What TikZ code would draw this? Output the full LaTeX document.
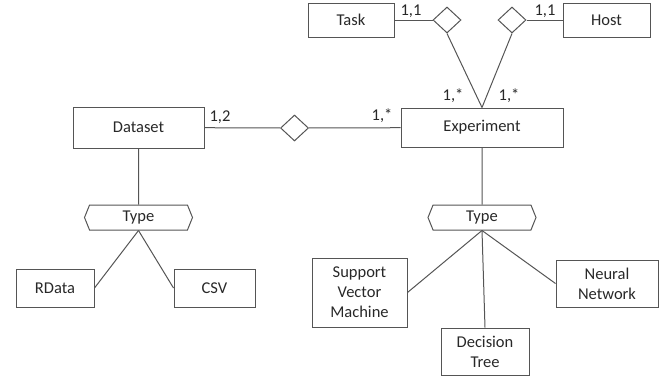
\documentclass[tikz,border=0pt]{standalone}
\usepackage{fontspec}
\setmainfont{Carlito}
\usepackage{tikz}
\usetikzlibrary{shapes.geometric}
\usetikzlibrary{shapes.symbols}
\definecolor{mylinecolor}{RGB}{85,85,85}
\definecolor{mytextcolor}{RGB}{40,40,40}
\tikzset{
  entity/.style={draw=mylinecolor, line width=1pt, text=mytextcolor, align=center, inner sep=0pt,
    font=\fontsize{16.5}{20}\selectfont},
  relation/.style={draw=mylinecolor, line width=1pt, shape=diamond, inner sep=0pt,
    minimum width=28pt, minimum height=26pt},
  typebox/.style={draw=mylinecolor, line width=1pt, text=mytextcolor, shape=signal,
    signal to=west and east, signal pointer angle=136, inner sep=0pt,
    minimum width=108pt, minimum height=25pt, font=\fontsize{16.5}{20}\selectfont},
  card/.style={text=mytextcolor, inner sep=0pt, font=\fontsize{16.5}{20}\selectfont},
  link/.style={draw=mylinecolor, line width=1pt}
}

\begin{document}
\begin{tikzpicture}[x=1pt, y=-1pt]
\useasboundingbox (0,0) rectangle (670,376);
\node[entity, minimum width=86pt, minimum height=34pt] (task) at (351,20) {Task};
\node[entity, minimum width=87pt, minimum height=34pt] (host) at (606.5,20) {Host};
\node[relation] (reltask) at (447,20) {};
\node[relation] (relhost) at (512,20) {};
\node[entity, minimum width=162pt, minimum height=39pt] (experiment) at (482,127.5) {Experiment};
\node[entity, minimum width=131pt, minimum height=41pt] (dataset) at (138.5,127.5) {Dataset};
\node[relation] (reldata) at (294.5,128) {};
\node[typebox] (datatype) at (138.5,217.5) {Type};
\node[typebox] (modeltype) at (482,217.5) {Type};
\node[entity, minimum width=78pt, minimum height=38pt] (rdata) at (55,288) {RData};
\node[entity, minimum width=81pt, minimum height=38pt] (csv) at (214.5,288) {CSV};
\node[entity, minimum width=95pt, minimum height=69pt] (svm) at (359.5,292.5) {Support\\Vector\\Machine};
\node[entity, minimum width=88pt, minimum height=47pt] (dtree) at (485,351.5) {Decision\\Tree};
\node[entity, minimum width=102pt, minimum height=47pt] (nnet) at (607,283.5) {Neural\\Network};
\node[card] at (411,11) {1,1};
\node[card] at (545,11) {1,1};
\node[card] at (453,96) {1,*};
\node[card] at (509,96) {1,*};
\node[card] at (382,116) {1,*};
\node[card] at (220,117) {1,2};
\draw[link] (task) -- (reltask);
\draw[link] (relhost) -- (host);
\draw[link] (reltask.south) -- (experiment.north);
\draw[link] (relhost.south) -- (experiment.north);
\draw[link] (dataset) -- (reldata);
\draw[link] (reldata) -- (experiment);
\draw[link] (dataset) -- (datatype);
\draw[link] (experiment) -- (modeltype);
\draw[link] (datatype.south) -- (rdata.east);
\draw[link] (datatype.south) -- (csv.west);
\draw[link] (modeltype.south) -- (svm.east);
\draw[link] (modeltype.south) -- (dtree.north);
\draw[link] (modeltype.south) -- (nnet.west);
\end{tikzpicture}
\end{document}
